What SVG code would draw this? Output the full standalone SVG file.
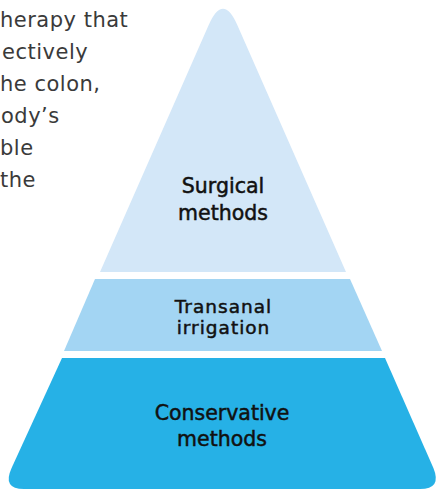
<svg xmlns="http://www.w3.org/2000/svg" width="442" height="490" viewBox="0 0 442 490">
  <style>
    .body { font-family: "DejaVu Sans", "Liberation Sans", sans-serif; font-size: 21px; letter-spacing: 0.5px; fill: #3a3a3a; }
    .label { font-family: "DejaVu Sans", "Liberation Sans", sans-serif; font-size: 20.5px; fill: #111111; stroke: #111111; stroke-width: 0.5; text-anchor: middle; }
    .small { font-size: 18.5px; letter-spacing: 1px; }
    .top { fill: #d3e7f8; }
    .mid { fill: #a3d5f3; }
    .bot { fill: #26b1e6; }
  </style>
  <rect width="442" height="490" fill="#ffffff"/>
  <g id="paragraph">
    <text class="body" x="0" y="26.5">herapy that</text>
    <text class="body" x="2" y="58.5">ectively</text>
    <text class="body" x="0" y="90.5">he colon,</text>
    <text class="body" x="1" y="122.5">ody’s</text>
    <text class="body" x="0" y="154.5">ble</text>
    <text class="body" x="0" y="186.5">the</text>
  </g>
  <g id="surgical">
    <path class="top" d="M100,272 L208.7,25 Q223,-7.5 237.3,25 L346,272 Z"/>
    <text class="label" x="223" y="193">Surgical</text>
    <text class="label" x="223" y="219.5">methods</text>
  </g>
  <g id="transanal">
    <path class="mid" d="M95,279 L350,279 L382,351 L64,351 Z"/>
    <text class="label small" x="223.5" y="312.5">Transanal</text>
    <text class="label small" x="223.5" y="334">irrigation</text>
  </g>
  <g id="conservative">
    <path class="bot" d="M62,358 L385,358 L433.4,468 Q442,489 420,489 L24,489 Q2,489 11.6,468 Z"/>
    <text class="label" x="222" y="420">Conservative</text>
    <text class="label" x="222" y="446">methods</text>
  </g>
  <g id="connectors"/>
</svg>
